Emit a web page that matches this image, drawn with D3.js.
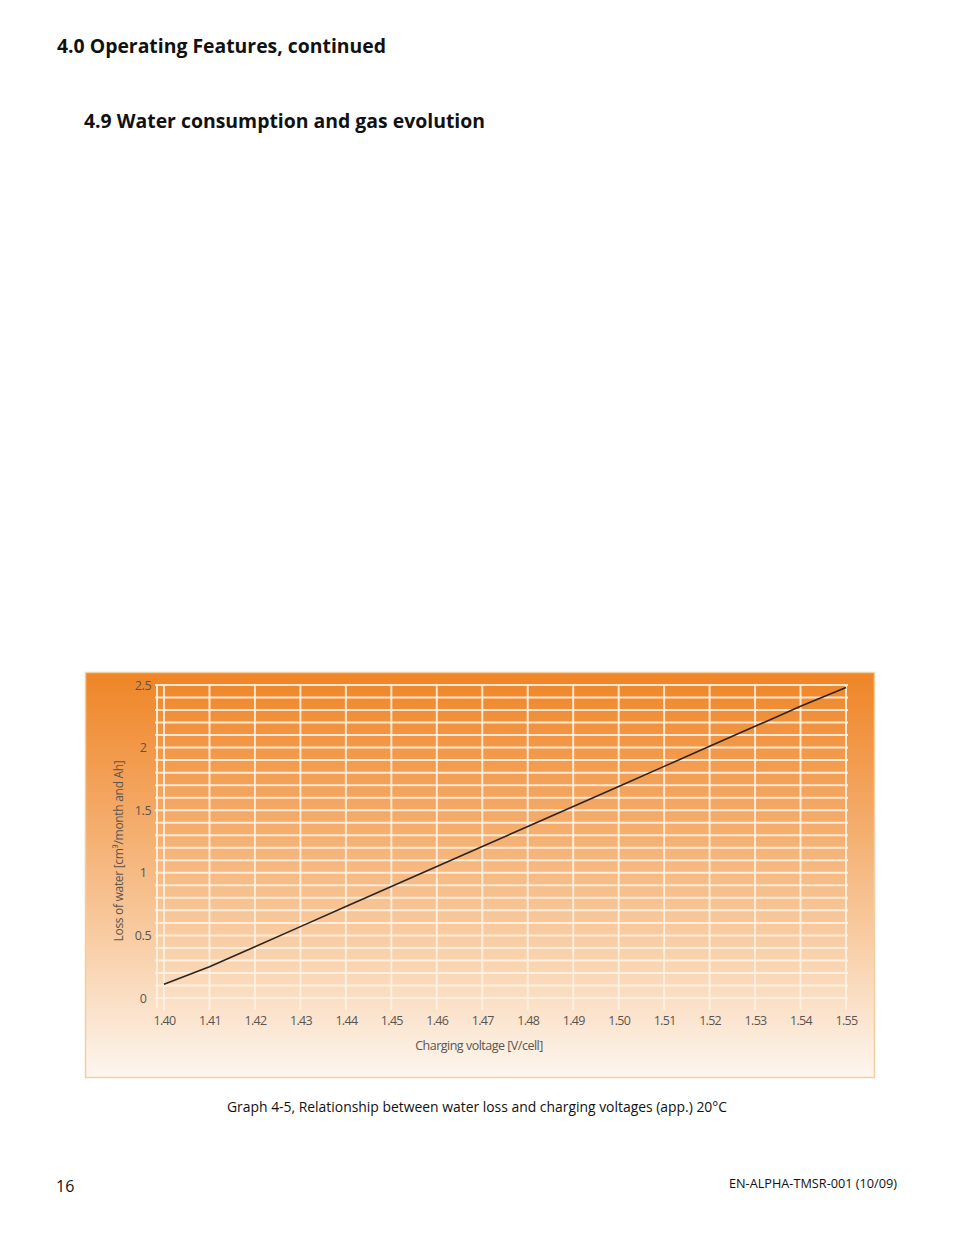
<!DOCTYPE html>
<html>
<head>
<meta charset="utf-8">
<script src="https://cdn.jsdelivr.net/npm/d3@7"></script>
<style>
  body { margin: 0; background: #fff; }
  svg { display: block; }
</style>
</head>
<body>
<svg id="page"></svg>
<script>
// values
const voltages = [1.40, 1.41, 1.42, 1.43, 1.44, 1.45, 1.46, 1.47, 1.48, 1.49, 1.50, 1.51, 1.52, 1.53, 1.54, 1.55];
const waterLoss = [0.11, 0.25, 0.41, 0.57, 0.73, 0.89, 1.05, 1.21, 1.37, 1.53, 1.69, 1.85, 2.01, 2.17, 2.33, 2.48];
const yTicks = [0, 0.5, 1, 1.5, 2, 2.5];
const yGrid = d3.range(0, 26).map(i => i / 10);

let w = 954;
let h = 1235;

let page = d3.select('#page')
	.attr('width', w)
	.attr('height', h);

page.append('rect').attr('width', w).attr('height', h).attr('fill', '#fff');

// headings
page.append('text')
	.attr('x', 57).attr('y', 53)
	.attr('font-family', 'Open Sans')
	.attr('font-weight', 700)
	.attr('font-size', 19)
	.attr('textLength', 329)
	.attr('lengthAdjust', 'spacingAndGlyphs')
	.attr('fill', '#111')
	.text('4.0 Operating Features, continued');

page.append('text')
	.attr('x', 84).attr('y', 128)
	.attr('font-family', 'Open Sans')
	.attr('font-weight', 700)
	.attr('font-size', 19)
	.attr('textLength', 401)
	.attr('lengthAdjust', 'spacingAndGlyphs')
	.attr('fill', '#111')
	.text('4.9 Water consumption and gas evolution');

// chart box with the orange fade
let defs = page.append('defs');
let grad = defs.append('linearGradient')
	.attr('id', 'bg')
	.attr('x1', 0).attr('y1', 0).attr('x2', 0).attr('y2', 1);
grad.append('stop').attr('offset', '0%').attr('stop-color', '#ef8526');
grad.append('stop').attr('offset', '30%').attr('stop-color', '#f3a45d');
grad.append('stop').attr('offset', '65%').attr('stop-color', '#f8cca2');
grad.append('stop').attr('offset', '100%').attr('stop-color', '#fdf6ef');

page.append('rect')
	.attr('x', 85.5).attr('y', 672.5)
	.attr('width', 789).attr('height', 405)
	.attr('fill', 'url(#bg)')
	.attr('stroke', '#f2cf9e')
	.attr('stroke-width', 1.5);

let x = d3.scaleLinear().domain([1.40, 1.55]).range([164, 846]);
let y = d3.scaleLinear().domain([0, 2.5]).range([998, 685]);

let grid = page.append('g')
	.attr('stroke', '#fdf1e2')
	.attr('stroke-opacity', 0.9)
	.attr('stroke-width', 2);

// left frame line of the grid
grid.append('line')
	.attr('x1', 157).attr('x2', 157)
	.attr('y1', y(2.5)).attr('y2', 1008);

grid.selectAll('.hg')
	.data(yGrid)
	.enter()
	.append('line')
	.attr('class', 'hg')
	.attr('x1', 155).attr('x2', x(1.55) + 2)
	.attr('y1', d => y(d)).attr('y2', d => y(d));

grid.selectAll('.vg')
	.data(voltages)
	.enter()
	.append('line')
	.attr('class', 'vg')
	.attr('x1', d => x(d)).attr('x2', d => x(d))
	.attr('y1', y(2.5)).attr('y2', 1010);

// axes (labels only)
let xAxis = d3.axisBottom(x)
	.tickValues(voltages)
	.tickFormat(d3.format('.2f'))
	.tickSize(0)
	.tickPadding(0);

let gx = page.append('g')
	.attr('transform', 'translate(0,1016)')
	.call(xAxis);
gx.select('.domain').remove();
gx.selectAll('text')
	.attr('font-family', 'Open Sans')
	.attr('font-size', 12.5)
	.attr('letter-spacing', -0.7)
	.attr('fill', '#5a5550');

let yAxis = d3.axisLeft(y)
	.tickValues(yTicks)
	.tickFormat(d => d)
	.tickSize(0)
	.tickPadding(0);

let gy = page.append('g')
	.attr('transform', 'translate(143,0)')
	.call(yAxis);
gy.select('.domain').remove();
gy.selectAll('text')
	.attr('text-anchor', 'middle')
	.attr('font-family', 'Open Sans')
	.attr('font-size', 12.5)
	.attr('letter-spacing', -0.4)
	.attr('fill', '#5a5550');

page.append('text')
	.attr('x', 479).attr('y', 1050)
	.attr('text-anchor', 'middle')
	.attr('font-family', 'Open Sans')
	.attr('font-size', 12.5)
	.attr('letter-spacing', -0.5)
	.attr('fill', '#5a5550')
	.text('Charging voltage [V/cell]');

page.append('text')
	.attr('transform', 'translate(123,851) rotate(-90)')
	.attr('text-anchor', 'middle')
	.attr('font-family', 'Open Sans')
	.attr('font-size', 12)
	.attr('letter-spacing', -0.3)
	.attr('fill', '#5a5550')
	.text('Loss of water [cm³/month and Ah]');

// the curve
let line = d3.line()
	.x((d, i) => x(voltages[i]))
	.y(d => y(d));

page.append('path')
	.datum(waterLoss)
	.attr('d', line)
	.attr('fill', 'none')
	.attr('stroke', '#2e2420')
	.attr('stroke-width', 1.6);

// caption and footer
page.append('text')
	.attr('x', 477).attr('y', 1112)
	.attr('text-anchor', 'middle')
	.attr('font-family', 'Open Sans')
	.attr('font-size', 14)
	.attr('textLength', 500)
	.attr('lengthAdjust', 'spacingAndGlyphs')
	.attr('fill', '#111')
	.text('Graph 4-5, Relationship between water loss and charging voltages (app.) 20°C');

page.append('text')
	.attr('x', 56).attr('y', 1192)
	.attr('font-family', 'Open Sans')
	.attr('font-size', 16)
	.attr('fill', '#111')
	.text('16');

page.append('text')
	.attr('x', 897).attr('y', 1188)
	.attr('text-anchor', 'end')
	.attr('font-family', 'Open Sans')
	.attr('font-size', 13)
	.attr('textLength', 168)
	.attr('lengthAdjust', 'spacingAndGlyphs')
	.attr('fill', '#111')
	.text('EN-ALPHA-TMSR-001 (10/09)');
</script>
</body>
</html>
